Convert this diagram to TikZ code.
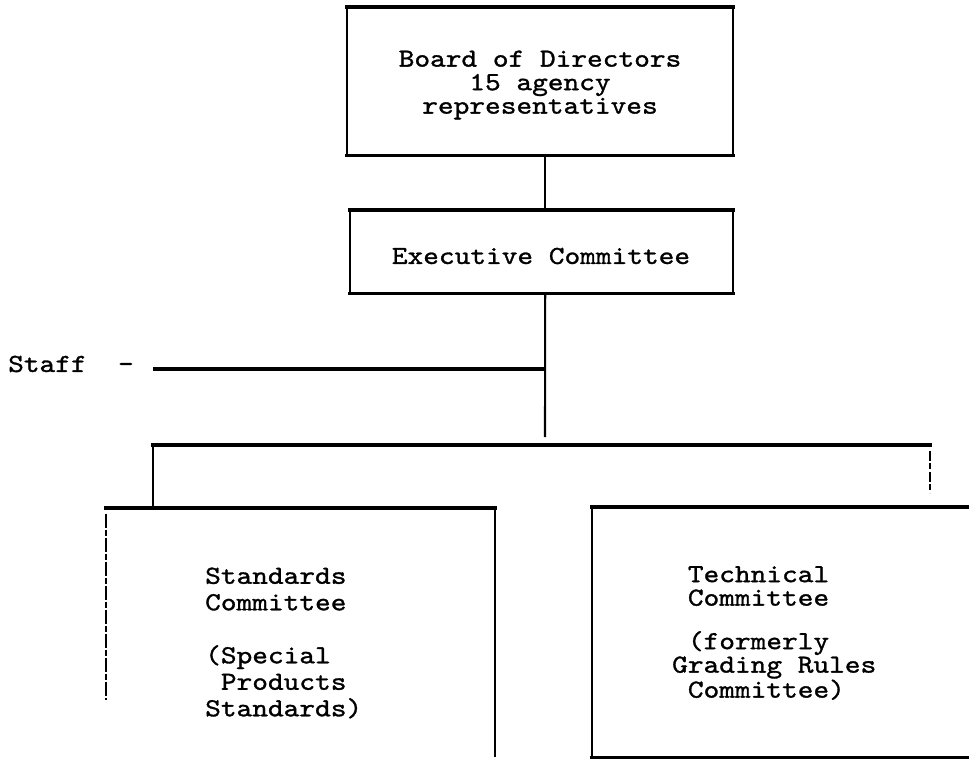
\documentclass[tikz,border=0pt]{standalone}
\usepackage{fontspec}
\newfontfamily\typewriter{lmmono10-regular.otf}[FakeStretch=1.15, FakeBold=1.2]
\usetikzlibrary{calc}
\newcommand\typefont[1]{\typewriter\fontsize{26pt}{#1}\selectfont}
\tikzset{
  hline/.style={line width=3.2pt, line cap=rect},
  vline/.style={line width=2.1pt},
  faintline/.style={line width=1.4pt, dash pattern=on 14pt off 2pt on 6pt off 2pt},
  boxarea/.style={draw=none, inner sep=0pt, anchor=north west},
  txt/.style={inner sep=0pt, align=center},
  txtleft/.style={inner sep=0pt, align=left, anchor=west}
}
\begin{document}
\begin{tikzpicture}[x=1pt,y=-1pt]
\useasboundingbox (0,0) rectangle (969,766);

% box outlines (areas)
\node[boxarea, minimum width=386pt, minimum height=148pt] (board) at (347,7) {};
\node[boxarea, minimum width=383pt, minimum height=83pt] (exec) at (350,210) {};
\node[boxarea, minimum width=389pt, minimum height=249pt] (std) at (106,508) {};
\node[boxarea, minimum width=395pt, minimum height=250pt] (tech) at (592,507) {};

% Board of Directors
\draw[hline] (board.north west) -- (board.north east);
\draw[hline] (board.south west) -- (board.south east);
\draw[vline] (board.north west) -- (board.south west);
\draw[vline] (board.north east) -- (board.south east);
\node[txt, font=\typefont{23.5pt}] (boardtxt) at (540,85)
  {Board of Directors\\15 agency\\representatives};

% Executive Committee
\draw[hline] (exec.north west) -- (exec.north east);
\draw[hline] (exec.south west) -- (exec.south east);
\draw[vline] (exec.north west) -- (exec.south west);
\draw[vline] (exec.north east) -- (exec.south east);
\node[txt, font=\typefont{23.5pt}] (exectxt) at (541,256) {Executive Committee};

% Standards Committee
\draw[hline] (std.north west) -- (std.north east);
\draw[vline] (std.north east) -- (std.south east);
\draw[faintline] ($(std.north west)+(0,6)$) -- ($(std.north west)+(0,192)$);
\node[txtleft, font=\typefont{26.5pt}] (stdtxt) at (205,643)
  {Standards\\Committee\\[26.5pt](Special\\\phantom{x}Products\\Standards)};

% Technical Committee
\draw[hline] (tech.north west) -- (tech.north east);
\draw[hline] (tech.south west) -- (tech.south east);
\draw[vline] (tech.north west) -- (tech.south west);
\node[txtleft, font=\typefont{23.5pt}] (techtxt) at (672,633)
  {\phantom{x}Technical\\\phantom{x}Committee\\[20pt]\phantom{x}(formerly\\Grading Rules\\\phantom{x}Committee)};

% Staff
\node[txtleft, font=\typefont{26pt}] (staff) at (8,364) {Staff\ \ -};

% connectors
\coordinate (trunk) at ($(exec.south)+(3.5,0)$);
\coordinate (trunkend) at (545,437);
\coordinate (staffend) at (153,369);
\coordinate (busleft) at (153,445);
\coordinate (busright) at (930,445);
\draw[vline] ($(board.south)+(5,0)$) -- ($(exec.north)+(3.5,0)$);
\draw[vline] (trunk) -- (trunkend);
\draw[hline, line cap=butt] (staffend) -- (staffend -| trunk);
\draw[hline] (busleft) -- (busright);
\draw[vline] (busleft) -- (busleft |- std.north);
\draw[faintline, dash pattern=on 10pt off 2pt on 6pt off 3pt] ($(busright)+(0,6)$) -- ($(busright |- tech.north)+(0,-14)$);
\end{tikzpicture}
\end{document}
